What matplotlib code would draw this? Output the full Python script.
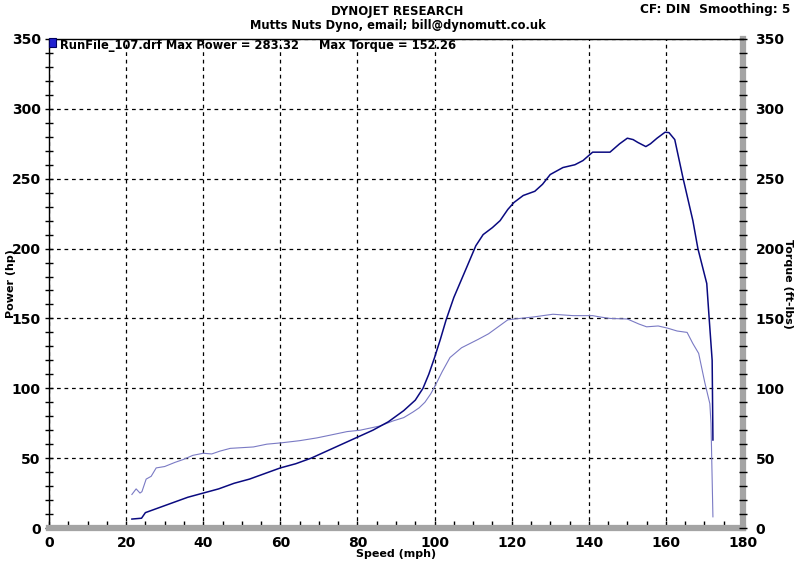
import numpy as np
import matplotlib
matplotlib.use("Agg")
from matplotlib import pyplot as plt
from matplotlib.patches import Rectangle

# values
power_speed = [21.5, 24, 25, 28, 32, 36, 40, 44, 48, 52, 56, 60, 64, 68, 72, 76,
               80, 84, 88, 92, 95, 97, 98.5, 100, 101.5, 103, 105, 108.4, 110.7,
               112.6, 115, 117, 119, 120.6, 123, 126, 128, 130, 133.3, 136.4,
               138.5, 141, 143, 145.5, 148, 150, 151.5, 152.7, 154.8, 156, 157.7,
               159.8, 160.8, 162.3, 164.4, 167, 168.3, 170.6, 171.2, 172, 172.2]
power_hp = [6.4, 7, 11, 14, 18, 22, 25, 28, 32, 35, 39, 43, 46, 50, 55, 60,
            65, 70, 76, 84, 91.5, 100, 110, 122, 135, 149, 165, 187, 202,
            210, 215, 220, 228, 233, 238, 241, 246, 253, 258, 260,
            263, 269, 269, 269, 275, 279, 278, 276, 273, 275, 279,
            283.3, 283, 278, 251, 220, 200, 175, 151, 120, 63]

torque_speed = [21.5, 22.6, 23.6, 24.1, 25.2, 26.5, 27.8, 30, 32.7, 34.8, 37.3,
                40, 42.2, 44.3, 47, 50, 53, 56.5, 60.4, 65, 69.5, 73, 77.3, 80.7,
                85.8, 89.2, 92, 94.4, 96, 97.5, 99, 100, 102, 104, 107, 111.3,
                114, 116, 119, 120.8, 125.5, 130.7, 135.9, 141, 143, 145.5, 150,
                153, 155, 158, 160.5, 162.9, 165.5, 167, 168.5, 170.1, 171.4,
                171.7, 172.2]
torque_ftlb = [24, 28, 25, 26, 35, 37, 43, 44, 47, 49, 52,
               53.5, 53, 55, 57, 57.5, 58, 60, 61, 62.5, 64.5, 66.5, 69, 70,
               73, 76.6, 79, 83, 86, 90, 96, 101, 112, 122, 129, 135,
               139, 143, 149, 149.6, 151, 153, 152, 152, 151, 150, 149.6,
               146, 144, 144.6, 143, 141, 140, 132, 125, 104, 89,
               75, 8]

title = 'DYNOJET RESEARCH'
subtitle = 'Mutts Nuts Dyno, email; bill@dynomutt.co.uk'
corner_note = 'CF: DIN  Smoothing: 5'
run_label = 'RunFile_107.drf Max Power = 283.32     Max Torque = 152.26'

plt.rcParams['font.family'] = ['DejaVu Sans']
plt.rcParams['font.weight'] = 'bold'

fig = plt.figure(figsize=(7.95, 5.61), dpi=100)
ax = fig.add_axes([49/795, 1-528/561, 694/795, 489/561])

ax.plot(torque_speed, torque_ftlb, color='#7a7ac4', linewidth=0.8, zorder=3)
ax.plot(power_speed, power_hp, color='#0a0a80', linewidth=1.1, zorder=4)

ax.set_xlim(0, 180)
ax.set_ylim(0, 350)
ax.set_xticks(np.arange(0, 181, 20))
ax.set_xticks(np.arange(0, 181, 5), minor=True)
ax.set_yticks(np.arange(0, 351, 50))
ax.set_yticks(np.arange(0, 351, 10), minor=True)
ax.grid(True, which='major', color='black', linestyle=(0, (3, 3)), linewidth=0.9)

for s in ['top', 'left']:
    ax.spines[s].set_color('black')
    ax.spines[s].set_linewidth(1.0)
for s in ['bottom', 'right']:
    ax.spines[s].set_color('#a4a4a4')
    ax.spines[s].set_linewidth(4.5)

ax.tick_params(axis='x', which='both', direction='in', length=5, width=1,
               color='black', labelsize=10, pad=6)
ax.tick_params(axis='y', which='both', direction='inout', length=6, width=1,
               color='black', labelsize=10, pad=3)

ax2 = ax.twinx()
ax2.set_ylim(0, 350)
ax2.set_yticks(np.arange(0, 351, 50))
ax2.set_yticks(np.arange(0, 351, 10), minor=True)
ax2.tick_params(axis='y', which='both', direction='inout', length=6, width=1,
                color='black', labelsize=10, pad=6)
for s in ax2.spines.values():
    s.set_visible(False)

ax.set_xlabel('Speed (mph)', fontsize=8, fontweight='bold', labelpad=-1)
ax.set_ylabel('Power (hp)', fontsize=8, fontweight='bold', va='center')
ax.yaxis.set_label_coords(-0.055, 0.5)
ax2.set_ylabel('Torque (ft-lbs)', fontsize=8, fontweight='bold', rotation=270,
               va='center')
ax2.yaxis.set_label_coords(1.0655, 0.5)

fig.text(0.5, 1-11/561, title, ha='center', va='center', fontsize=8.5, fontweight='bold')
fig.text(0.5, 1-26/561, subtitle, ha='center', va='center', fontsize=8.3, fontweight='bold')
fig.text(790/795, 1-9/561, corner_note, ha='right', va='center', fontsize=8.7, fontweight='bold')

ax.add_patch(Rectangle((0.0, 0.9836), 0.01, 0.0184, transform=ax.transAxes,
                       facecolor='#2020d0', edgecolor='#000060', linewidth=0.8,
                       clip_on=False, zorder=6))
ax.text(0.016, 0.986, run_label, transform=ax.transAxes, ha='left', va='center',
        fontsize=8.3, fontweight='bold', zorder=6)

fig.savefig('out.png', dpi=100)
